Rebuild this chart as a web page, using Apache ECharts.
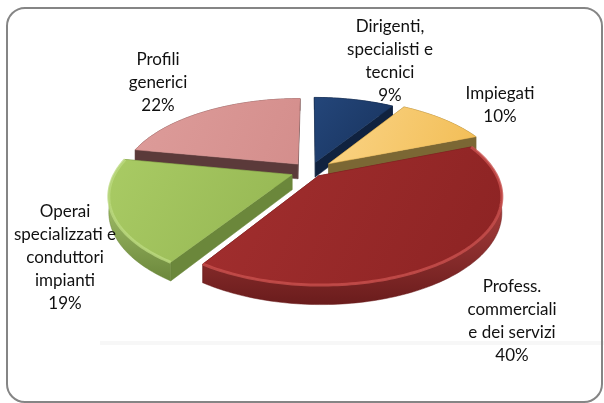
<!DOCTYPE html>
<html><head><meta charset="utf-8">
<script src="https://cdn.jsdelivr.net/npm/echarts@6/dist/echarts.min.js"></script>
<style>html,body{margin:0;padding:0;background:#fff}#c{width:604px;height:403px}</style>
</head><body><div id="c"></div>
<script>
// ---- data ----
const categories = ["Dirigenti,\nspecialisti e\ntecnici", "Impiegati", "Profess.\ncommerciali\ne dei servizi", "Operai\nspecializzati e\nconduttori\nimpianti", "Profili\ngenerici"];
const values = [9, 10, 40, 19, 22];

// ---- styles ----
const topColors = [["#24467a", "#17325c"], ["#fad486", "#f2bd55"], ["#a32f2f", "#8c2323"], ["#a9cb64", "#94b552"], ["#dd9c9a", "#d48e8c"]];
const sideColors = ["#10223f", "#7b6734", "#6a1c1c", "#6b873b", "#5b3a3a"];
const rimColors = [null, null, "#c9504e", "#bcd97f", null];
const explode = [0.11, 0.14, 0.075, 0.11, 0.11];
const labelAnchor = [[390, 61], [500, 105], [512, 321], [65, 258], [158, 83]];

const P = 0.22, R = 176, K = 0.47, D = 15, CX = 310, CY = 171;
const total = values.reduce((a, b) => a + b, 0);
const starts = []; let acc = 0;
values.forEach(v => { starts.push(acc / total * 2 * Math.PI); acc += v; });

function proj(X, Z, d) { const s = 1 / (1 - P * Z); return [CX + R * X * s, CY + (R * K * Z + d * D) * s]; }

function renderItem(params, api) {
  const i = params.dataIndex;
  const v = api.value(1);
  const a0 = starts[i], a1 = a0 + v / total * 2 * Math.PI;
  const mid = (a0 + a1) / 2, e = explode[i];
  const ox = e * Math.sin(mid), oz = -e * Math.cos(mid);
  const pt = (a, r, d) => proj(ox + r * Math.sin(a), oz - r * Math.cos(a), d);
  const n = Math.max(8, Math.ceil((a1 - a0) / 0.02));
  const topArc = [], botArc = [];
  for (let k = 0; k <= n; k++) { const a = a0 + (a1 - a0) * k / n; topArc.push(pt(a, 1, 0)); botArc.push(pt(a, 1, 1)); }
  const apexT = pt(0, 0, 0), apexB = pt(0, 0, 1);
  const base = 100 + oz * 500;
  const side = sideColors[i];
  const children = [];
  [a0, a1].forEach(a => {
    children.push({ type: 'polygon', z2: base + 1, shape: { points: [apexT, pt(a, 1, 0), pt(a, 1, 1), apexB] }, style: { fill: side, stroke: side, lineWidth: 0.5 } });
  });
  children.push({ type: 'polygon', z2: base + 2, shape: { points: topArc.concat(botArc.slice().reverse()) },
    style: { fill: { type: 'linear', x: 0, y: 0, x2: 0, y2: 1, colorStops: [{ offset: 0, color: rimColors[i] || side }, { offset: 1, color: side }] }, stroke: side, lineWidth: 0.5 } });
  children.push({ type: 'polygon', z2: base + 5, shape: { points: [apexT].concat(topArc) },
    style: { fill: { type: 'linear', x: 0, y: 0, x2: 1, y2: 1, colorStops: [{ offset: 0, color: topColors[i][0] }, { offset: 1, color: topColors[i][1] }] }, stroke: topColors[i][1], lineWidth: 0.5 } });
  if (rimColors[i]) {
    children.push({ type: 'polyline', z2: base + 6, shape: { points: topArc }, style: { fill: null, stroke: rimColors[i], lineWidth: 3, opacity: 0.8 } });
  }
  children.push({ type: 'text', z2: 1000, style: { text: categories[i] + "\n" + v + "%", x: labelAnchor[i][0], y: labelAnchor[i][1], align: 'center', verticalAlign: 'middle', fontFamily: 'Lato', fontSize: 17, lineHeight: 23, fill: '#111' } });
  return { type: 'group', children };
}

const chart = echarts.init(document.getElementById('c'), null, { renderer: 'canvas' });
chart.setOption({
  animation: false,
  backgroundColor: '#fff',
  graphic: [
    { type: 'rect', z: -10, shape: { x: 100, y: 341, width: 504, height: 4 }, style: { fill: '#f7f7f7' } },
    { type: 'rect', z: 10, shape: { x: 7, y: 8, width: 595, height: 394, r: 18 }, style: { fill: null, stroke: '#858585', lineWidth: 2 } }
  ],
  series: [{
    type: 'custom',
    coordinateSystem: 'none',
    renderItem: renderItem,
    data: values.map((v, i) => [i, v])
  }]
});
</script>
</body></html>
